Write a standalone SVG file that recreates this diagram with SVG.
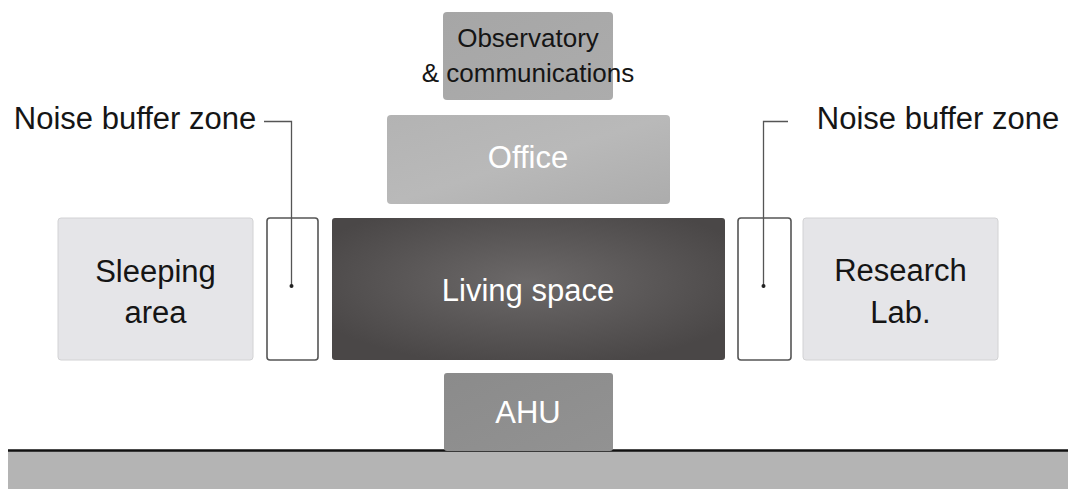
<svg xmlns="http://www.w3.org/2000/svg" width="1068" height="489" viewBox="0 0 1068 489">
  <defs>
    <radialGradient id="gLiving" cx="0.5" cy="0.45" r="0.6">
      <stop offset="0" stop-color="#6c6969"/>
      <stop offset="1" stop-color="#4a4747"/>
    </radialGradient>
    <linearGradient id="gOffice" x1="0" y1="0" x2="1" y2="1">
      <stop offset="0" stop-color="#b3b3b3"/>
      <stop offset="0.5" stop-color="#b9b9b9"/>
      <stop offset="1" stop-color="#acacac"/>
    </linearGradient>
    <linearGradient id="gObs" x1="0" y1="0" x2="1" y2="1">
      <stop offset="0" stop-color="#a6a6a6"/>
      <stop offset="1" stop-color="#acacac"/>
    </linearGradient>
    <linearGradient id="gAhu" x1="0" y1="0" x2="1" y2="1">
      <stop offset="0" stop-color="#8b8b8b"/>
      <stop offset="1" stop-color="#929292"/>
    </linearGradient>
  </defs>
  <style>
    text { font-family: "Liberation Sans", Arial, Helvetica, sans-serif; text-anchor: middle; }
    .dark { fill: #151515; }
    .light { fill: #ffffff; }
    .side { fill: #e5e5e8; stroke: #d2d2d4; stroke-width: 1; }
    .buffer { fill: #ffffff; stroke: #555555; stroke-width: 1.6; }
    .leader { fill: none; stroke: #555555; stroke-width: 1.3; }
  </style>
  <rect x="0" y="0" width="1068" height="489" fill="#ffffff"/>

  <g id="ground">
    <rect x="8" y="451" width="1060" height="38" fill="#b4b4b4"/>
    <line x1="8" y1="450.5" x2="1068" y2="450.5" stroke="#111111" stroke-width="2.5"/>
  </g>

  <g id="observatory">
    <rect x="443" y="12" width="170" height="88" rx="4" fill="url(#gObs)"/>
    <text class="dark" x="528" y="47" font-size="26">Observatory</text>
    <text class="dark" x="528" y="82" font-size="26">&amp; communications</text>
  </g>

  <g id="office">
    <rect x="387" y="115" width="283" height="89" rx="4" fill="url(#gOffice)"/>
    <text class="light" x="528" y="168" font-size="31">Office</text>
  </g>

  <g id="sleeping">
    <rect class="side" x="58" y="218" width="195" height="142" rx="3"/>
    <text class="dark" x="155.5" y="282" font-size="31">Sleeping</text>
    <text class="dark" x="155.5" y="323" font-size="31">area</text>
  </g>

  <g id="buffer-left">
    <rect class="buffer" x="267" y="218" width="51" height="142" rx="3"/>
  </g>

  <g id="living">
    <rect x="332" y="218" width="393" height="142" rx="3" fill="url(#gLiving)"/>
    <text class="light" x="528" y="301" font-size="31">Living space</text>
  </g>

  <g id="buffer-right">
    <rect class="buffer" x="738" y="218" width="53" height="142" rx="3"/>
  </g>

  <g id="research">
    <rect class="side" x="803" y="218" width="195" height="142" rx="3"/>
    <text class="dark" x="900.5" y="281" font-size="31">Research</text>
    <text class="dark" x="900.5" y="323" font-size="31">Lab.</text>
  </g>

  <g id="ahu">
    <rect x="444" y="373" width="169" height="78" rx="3" fill="url(#gAhu)"/>
    <text class="light" x="528" y="423" font-size="31">AHU</text>
  </g>

  <g id="label-left">
    <text class="dark" x="135" y="129" font-size="31">Noise buffer zone</text>
  </g>
  <g id="label-right">
    <text class="dark" x="938" y="129" font-size="31">Noise buffer zone</text>
  </g>

  <g id="connectors">
    <polyline class="leader" points="264,121.5 291.5,121.5 291.5,286"/>
    <circle cx="291.5" cy="286" r="2" fill="#222222"/>
    <polyline class="leader" points="788,121.5 763.5,121.5 763.5,286"/>
    <circle cx="763.5" cy="286" r="2" fill="#222222"/>
  </g>
</svg>
